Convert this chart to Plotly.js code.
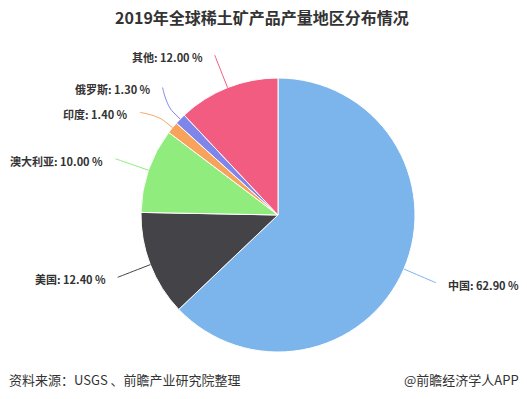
<!DOCTYPE html>
<html>
<head>
<meta charset="utf-8">
<script src="https://cdn.plot.ly/plotly-3.0.1.min.js"></script>
<style>html,body{margin:0;padding:0;background:#fff}#chart{width:527px;height:399px}</style>
</head>
<body>
<div id="chart"></div>
<script>
// ---- data ----
const categories = ['中国', '美国', '澳大利亚', '印度', '俄罗斯', '其他'];
const shares = [62.90, 12.40, 10.00, 1.40, 1.30, 12.00];
const sliceColors = ['#7cb5ec', '#434348', '#90ed7d', '#f7a35c', '#8085e9', '#f15c80'];
const titleText = '2019年全球稀土矿产品产量地区分布情况';
const sourceText = '资料来源：USGS 、前瞻产业研究院整理';
const brandText = '@前瞻经济学人APP';

// ---- geometry (pixels) ----
const W = 527, H = 399;
const CX = 278, CY = 215, R = 137;
const DIST = 35, MIN_GAP = 25;
const FONT = '"Noto Sans CJK SC", "Noto Sans", sans-serif';
const px = x => x / W;
const py = y => 1 - y / H;

// label layout from data angles (clockwise from 12 o'clock)
const total = shares.reduce((a, b) => a + b, 0);
let cum = 0;
const labels = shares.map((v, i) => {
  const mid = (cum + v / 2) / total * 2 * Math.PI;
  cum += v;
  const sx = Math.sin(mid), cy = -Math.cos(mid);
  return {
    i, side: sx >= 0 ? 1 : -1,
    touch: [CX + R * sx, CY + R * cy],
    brk: [CX + (R + 10) * sx, CY + (R + 10) * cy],
    y: CY + (R + DIST) * cy
  };
});
// simple overlap avoidance per side
[1, -1].forEach(side => {
  const grp = labels.filter(l => l.side === side).sort((a, b) => a.y - b.y);
  for (let it = 0; it < 60; it++) {
    for (let k = 1; k < grp.length; k++) {
      const gap = grp[k].y - grp[k - 1].y;
      if (gap < MIN_GAP) {
        const d = (MIN_GAP - gap) / 2;
        grp[k - 1].y -= d; grp[k].y += d;
      }
    }
  }
});
labels.forEach(l => {
  const dy = l.y - CY, rr = R + DIST;
  const dx = Math.sqrt(Math.max(rr * rr - dy * dy, 0));
  l.x = CX + l.side * dx;
});

const shapes = labels.map(l => {
  const ex = l.x, ey = l.y;
  const c2x = 2 * l.brk[0] - l.touch[0], c2y = 2 * l.brk[1] - l.touch[1];
  const path = `M ${px(ex)} ${py(ey)} C ${px(ex)} ${py(ey)} ${px(c2x)} ${py(c2y)} ${px(l.brk[0])} ${py(l.brk[1])} L ${px(l.touch[0])} ${py(l.touch[1])}`;
  return {type: 'path', xref: 'paper', yref: 'paper', path,
          line: {color: sliceColors[l.i], width: 1}};
});

const annotations = labels.map(l => ({
  xref: 'paper', yref: 'paper',
  x: px(l.x + l.side * 10), y: py(l.y + 2),
  xanchor: l.side > 0 ? 'left' : 'right', yanchor: 'middle',
  text: categories[l.i] + ': ' + shares[l.i].toFixed(2) + ' %',
  showarrow: false,
  font: {family: FONT, size: 11, color: '#333333', weight: 'bold'}
}));
annotations.push({
  xref: 'paper', yref: 'paper', x: px(7), y: py(379), xanchor: 'left', yanchor: 'middle',
  text: sourceText, showarrow: false, font: {family: FONT, size: 13, color: '#333333'}
});
annotations.push({
  xref: 'paper', yref: 'paper', x: px(521), y: py(379), xanchor: 'right', yanchor: 'middle',
  text: brandText, showarrow: false, font: {family: FONT, size: 13, color: '#333333'}
});

const data = [{
  type: 'pie',
  labels: categories,
  values: shares,
  sort: false,
  direction: 'clockwise',
  rotation: 0,
  textinfo: 'none',
  hoverinfo: 'label+percent',
  marker: {colors: sliceColors, line: {color: '#ffffff', width: 1}},
  domain: {x: [px(CX - R), px(CX + R)], y: [py(CY + R), py(CY - R)]},
  showlegend: false
}];

const layout = {
  width: W, height: H,
  margin: {l: 0, r: 0, t: 0, b: 0},
  paper_bgcolor: '#ffffff',
  title: {text: titleText, x: px(262), xanchor: 'center', y: py(18), yanchor: 'middle',
          font: {family: FONT, size: 16, color: '#333333', weight: 'bold'}},
  showlegend: false,
  shapes, annotations
};
Plotly.newPlot('chart', data, layout, {displayModeBar: false, staticPlot: true});
</script>
</body>
</html>
